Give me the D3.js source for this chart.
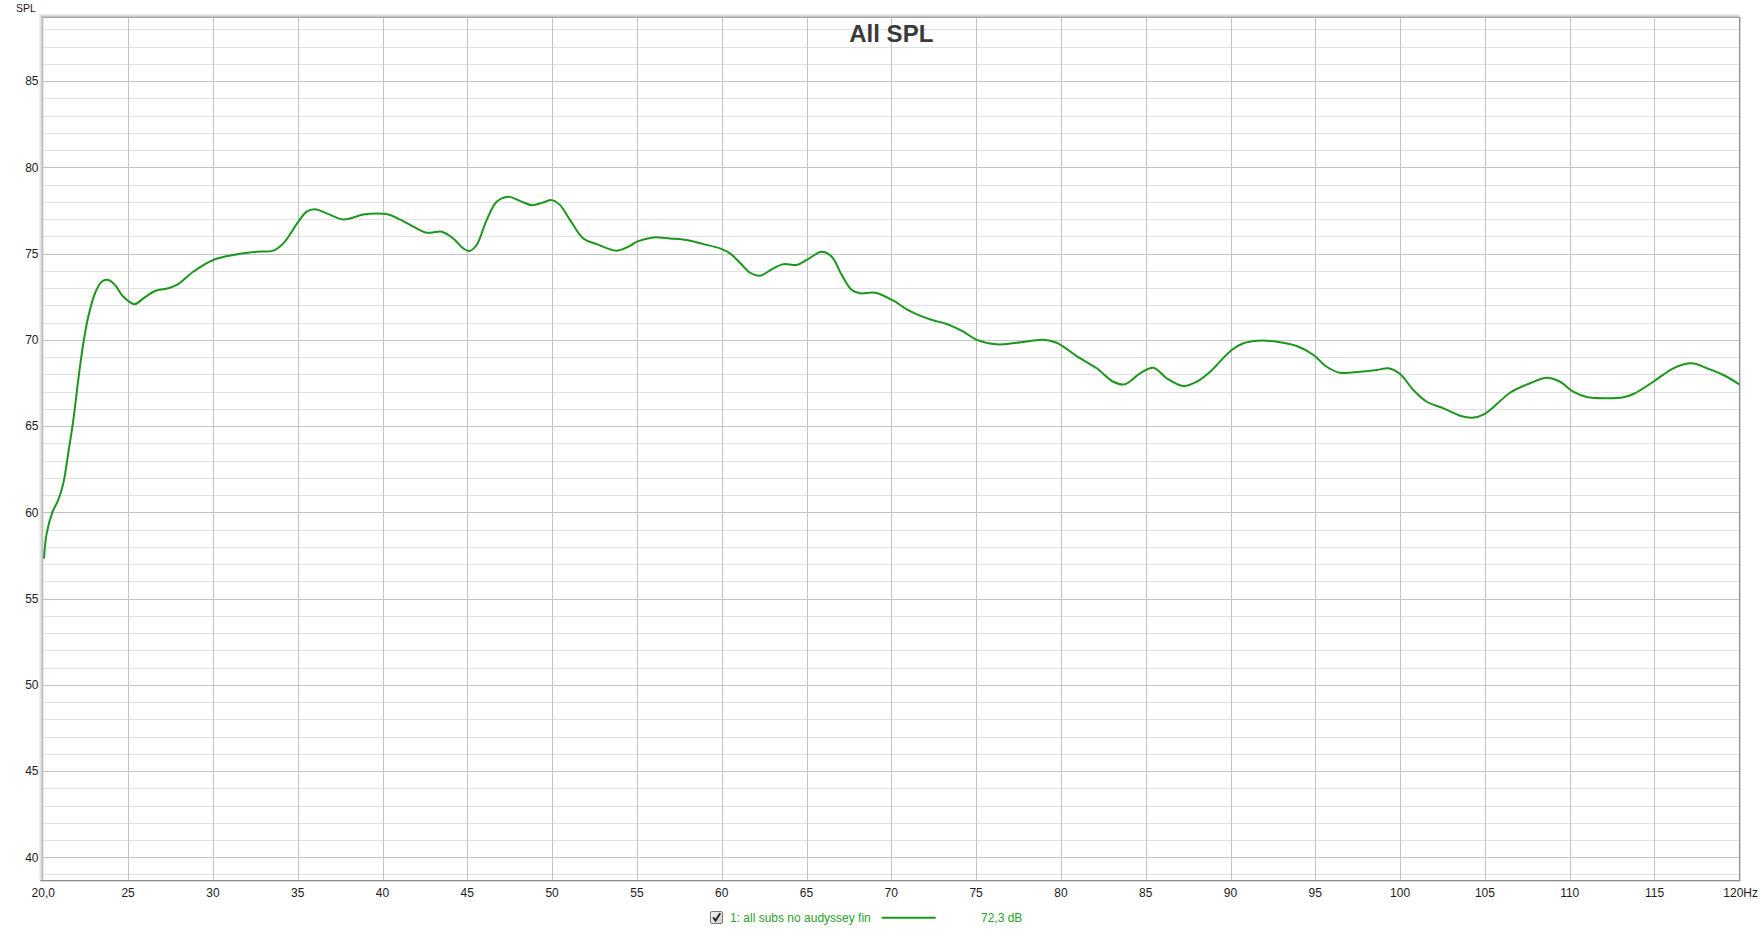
<!DOCTYPE html>
<html>
<head>
<meta charset="utf-8">
<script src="https://cdn.jsdelivr.net/npm/d3@7"></script>
<style>
  html, body { margin: 0; padding: 0; background: #ffffff; }
  svg { display: block; font-family: "Liberation Sans", Arial, sans-serif; }
</style>
</head>
<body>
<svg id="chart" width="1761" height="932"></svg>
<script>
// ---- Data ----
const title = "All SPL";
const yAxisLabel = "SPL";
const seriesName = "1: all subs no audyssey fin";
const seriesValueLabel = "72,3 dB";
const xTickValues = [20, 25, 30, 35, 40, 45, 50, 55, 60, 65, 70, 75, 80, 85, 90, 95, 100, 105, 110, 115, 120];
const xTickLabels = ["20,0", "25", "30", "35", "40", "45", "50", "55", "60", "65", "70", "75", "80", "85", "90", "95", "100", "105", "110", "115", "120Hz"];
const yTickValues = [40, 45, 50, 55, 60, 65, 70, 75, 80, 85];
const freq = [20.04, 20.2, 20.55, 20.88, 21.18, 21.47, 21.77, 22.06, 22.36, 22.65, 23.05, 23.44, 23.83, 24.23, 24.72, 25.37, 25.9, 26.59, 27.37, 27.87, 28.84, 30.02, 31.2, 32.58, 33.56, 34.15, 35.04, 35.53, 36.02, 36.71, 37.69, 38.87, 39.66, 40.34, 41.03, 41.82, 42.6, 43.49, 44.17, 44.76, 45.12, 45.55, 46.14, 46.73, 47.42, 48.1, 48.8, 49.48, 49.98, 50.47, 51.06, 51.84, 52.63, 53.81, 54.59, 55.0, 55.97, 56.95, 57.94, 58.92, 59.9, 60.49, 61.08, 61.67, 62.26, 62.95, 63.63, 64.42, 65.01, 65.9, 66.49, 67.08, 67.67, 68.16, 69.05, 70.12, 70.91, 71.7, 72.4, 73.27, 74.25, 75.04, 76.22, 77.4, 78.96, 79.75, 80.93, 82.11, 83.09, 83.78, 84.67, 85.45, 86.24, 87.22, 88.01, 88.8, 89.19, 90.07, 90.76, 91.64, 92.73, 93.91, 94.89, 95.67, 96.46, 97.64, 98.63, 99.31, 100.0, 100.78, 101.57, 102.56, 103.54, 104.23, 104.94, 105.9, 106.48, 107.66, 108.64, 109.43, 110.21, 111.0, 112.18, 113.16, 113.75, 114.93, 116.11, 117.19, 118.08, 119.06, 120.0];
const spl = [57.33, 58.78, 60.04, 60.71, 61.68, 63.42, 65.35, 67.67, 69.8, 71.34, 72.7, 73.37, 73.47, 73.18, 72.5, 72.07, 72.4, 72.83, 72.99, 73.18, 73.95, 74.63, 74.92, 75.11, 75.17, 75.59, 76.85, 77.43, 77.57, 77.33, 76.98, 77.27, 77.33, 77.27, 76.98, 76.56, 76.21, 76.27, 75.88, 75.3, 75.15, 75.5, 76.94, 78.0, 78.3, 78.06, 77.81, 77.97, 78.1, 77.81, 76.94, 75.88, 75.55, 75.17, 75.45, 75.69, 75.94, 75.88, 75.79, 75.55, 75.3, 75.01, 74.47, 73.89, 73.72, 74.09, 74.39, 74.34, 74.63, 75.11, 74.82, 73.76, 72.89, 72.7, 72.73, 72.27, 71.77, 71.4, 71.15, 70.92, 70.47, 70.0, 69.74, 69.83, 70.0, 69.83, 69.06, 68.35, 67.57, 67.42, 68.06, 68.38, 67.77, 67.32, 67.57, 68.15, 68.54, 69.41, 69.8, 69.95, 69.89, 69.64, 69.12, 68.44, 68.09, 68.15, 68.25, 68.35, 68.02, 67.09, 66.41, 66.03, 65.6, 65.48, 65.68, 66.45, 66.93, 67.48, 67.8, 67.57, 66.99, 66.68, 66.61, 66.67, 66.86, 67.57, 68.35, 68.64, 68.35, 67.96, 67.42];

// ---- Layout ----
const svg = d3.select("#chart");
const plot = { left: 43.3, right: 1739.3, top: 18, bottom: 880.7 };
const x = d3.scaleLinear().domain([20, 120]).range([plot.left, plot.right]);
const y = d3.scaleLinear().domain([38.64, 88.66]).range([plot.bottom, plot.top]);
const lineColor = "#1c961c";
const legendColor = "#2a9f2a";

// minor horizontal grid (every 1 dB)
const minorY = d3.range(39, 89, 1).filter(v => v % 5 !== 0);
svg.append("g").selectAll("line").data(minorY).join("line")
  .attr("x1", plot.left).attr("x2", plot.right)
  .attr("y1", d => Math.round(y(d)) + 0.5).attr("y2", d => Math.round(y(d)) + 0.5)
  .attr("stroke", "#e1e1e1").attr("stroke-width", 1);

// major horizontal grid
svg.append("g").selectAll("line").data(yTickValues).join("line")
  .attr("x1", plot.left).attr("x2", plot.right)
  .attr("y1", d => Math.round(y(d)) + 0.5).attr("y2", d => Math.round(y(d)) + 0.5)
  .attr("stroke", "#c3c3c3").attr("stroke-width", 1);

// vertical grid
svg.append("g").selectAll("line").data(xTickValues.slice(1, -1)).join("line")
  .attr("x1", d => Math.round(x(d)) + 0.5).attr("x2", d => Math.round(x(d)) + 0.5)
  .attr("y1", plot.top).attr("y2", plot.bottom)
  .attr("stroke", "#c3c3c3").attr("stroke-width", 1);

// frame with shadow (top & left)
const shadeCols = ["#ececec", "#dadada", "#c4c4c4", "#a8a8a8"];
shadeCols.forEach((c, i) => {
  svg.append("line").attr("x1", plot.left - 4 + i).attr("x2", plot.right)
    .attr("y1", plot.top - 3.5 + i).attr("y2", plot.top - 3.5 + i).attr("stroke", c);
  svg.append("line").attr("x1", plot.left - 3.5 + i).attr("x2", plot.left - 3.5 + i)
    .attr("y1", plot.top - 4 + i).attr("y2", plot.bottom).attr("stroke", c);
});
svg.append("line").attr("x1", plot.left - 3).attr("x2", plot.right + 1)
  .attr("y1", 880.5).attr("y2", 880.5).attr("stroke", "#8c8c8c");
svg.append("line").attr("x1", plot.left - 3).attr("x2", plot.right + 1)
  .attr("y1", 881.5).attr("y2", 881.5).attr("stroke", "#d8d8d8");
svg.append("line").attr("x1", 1739.5).attr("x2", 1739.5)
  .attr("y1", plot.top - 1).attr("y2", 881).attr("stroke", "#8c8c8c");
svg.append("line").attr("x1", 1740.5).attr("x2", 1740.5)
  .attr("y1", plot.top - 1).attr("y2", 882).attr("stroke", "#d8d8d8");

// y tick labels
svg.append("g").selectAll("text").data(yTickValues).join("text")
  .attr("x", 38.5).attr("y", d => y(d)).attr("dy", "0.36em")
  .attr("text-anchor", "end").attr("font-size", 12).attr("fill", "#1a1a1a")
  .text(d => d);

// y axis label
svg.append("text").attr("x", 16).attr("y", 12.3)
  .attr("font-size", 10.5).attr("fill", "#1a1a1a").text(yAxisLabel);

// x tick labels
svg.append("g").selectAll("text").data(xTickValues).join("text")
  .attr("x", (d, i) => i === xTickValues.length - 1 ? 1758 : x(d))
  .attr("y", 897.3)
  .attr("text-anchor", (d, i) => i === xTickValues.length - 1 ? "end" : "middle")
  .attr("font-size", 12).attr("fill", "#1a1a1a")
  .text((d, i) => xTickLabels[i]);

// title
svg.append("text").attr("x", (plot.left + plot.right) / 2).attr("y", 42.3)
  .attr("text-anchor", "middle").attr("font-size", 24).attr("font-weight", "bold")
  .attr("fill", "#3a3a3a").text(title);

// data line
const pts = freq.map((f, i) => [f, spl[i]]);
const line = d3.line().x(d => x(d[0])).y(d => y(d[1])).curve(d3.curveCatmullRom.alpha(0.5));
svg.append("path").datum(pts).attr("d", line)
  .attr("fill", "none").attr("stroke", lineColor).attr("stroke-width", 2)
  .attr("stroke-linejoin", "round");

// legend
const lg = svg.append("g");
const grad = svg.append("defs").append("linearGradient").attr("id", "cb")
  .attr("x1", 0).attr("y1", 0).attr("x2", 1).attr("y2", 1);
grad.append("stop").attr("offset", "0%").attr("stop-color", "#f4f4f4");
grad.append("stop").attr("offset", "100%").attr("stop-color", "#cfcfcf");
lg.append("rect").attr("x", 710.5).attr("y", 911.5).attr("width", 12).attr("height", 12)
  .attr("rx", 1.5).attr("fill", "url(#cb)").attr("stroke", "#777");
lg.append("path").attr("d", "M713.2,917.4 L715.6,920.6 L720.2,913.2")
  .attr("fill", "none").attr("stroke", "#222").attr("stroke-width", 1.8);
lg.append("text").attr("x", 730).attr("y", 921.7).attr("font-size", 12)
  .attr("fill", legendColor).text(seriesName);
lg.append("line").attr("x1", 881.7).attr("x2", 935.7).attr("y1", 917.7).attr("y2", 917.7)
  .attr("stroke", lineColor).attr("stroke-width", 2);
lg.append("text").attr("x", 981).attr("y", 921.7).attr("font-size", 12)
  .attr("fill", legendColor).text(seriesValueLabel);
</script>
</body>
</html>
